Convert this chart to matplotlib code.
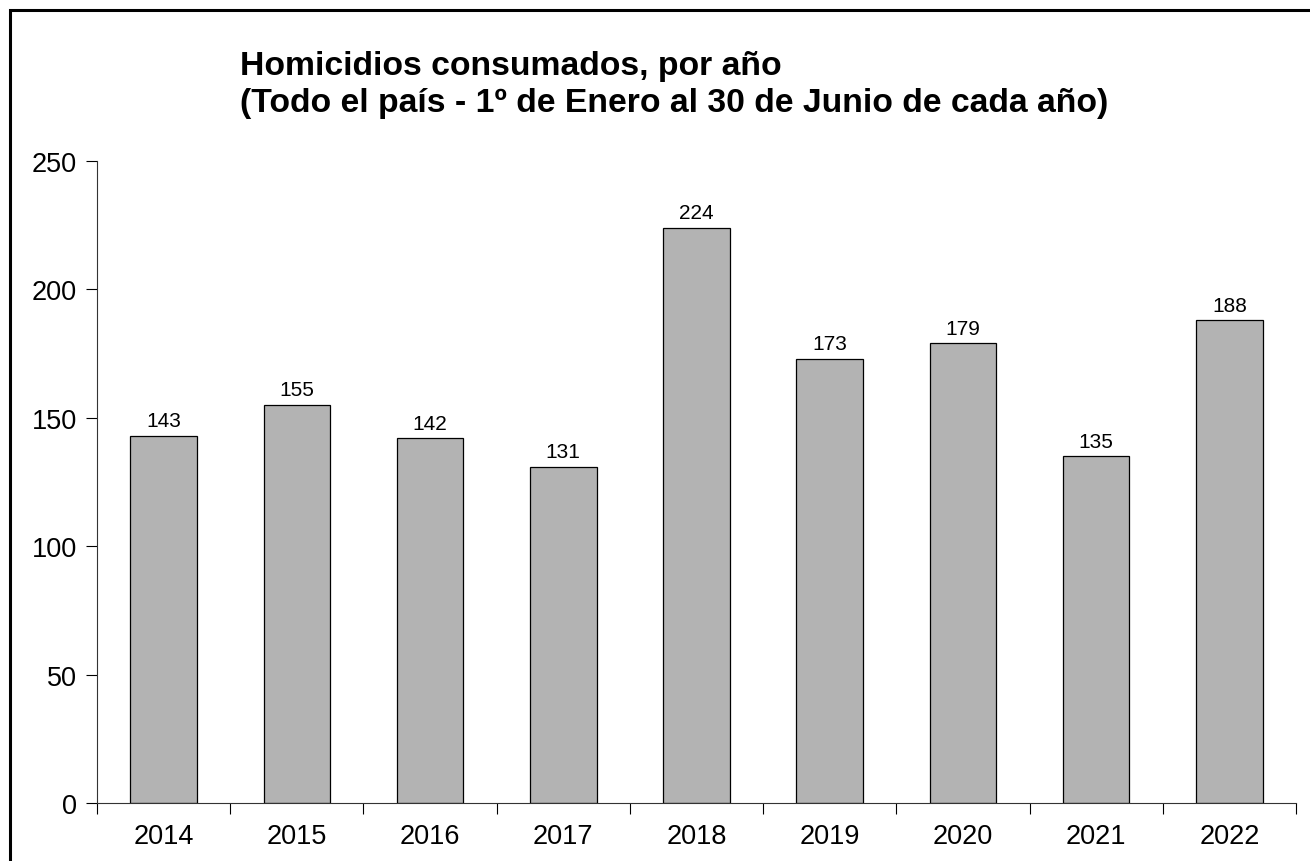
import matplotlib
matplotlib.use("Agg")
import matplotlib.pyplot as plt
from matplotlib.patches import Rectangle

years = ["2014", "2015", "2016", "2017", "2018", "2019", "2020", "2021", "2022"]
values = [143, 155, 142, 131, 224, 173, 179, 135, 188]
yticks = [0, 50, 100, 150, 200, 250]
title_line1 = "Homicidios consumados, por año"
title_line2 = "(Todo el país - 1º de Enero al 30 de Junio de cada año)"

plt.rcParams['font.family'] = ['Liberation Sans', 'DejaVu Sans']

W, H = 1310, 862
fig = plt.figure(figsize=(W / 100, H / 100), dpi=100)
fig.patch.set_facecolor("white")

# outer frame (cut by right/bottom edge)
fig.patches.append(Rectangle((10 / W, -0.1), 1.2, 1 - 11.3 / H + 0.1,
                             transform=fig.transFigure, fill=False,
                             edgecolor="black", linewidth=2.2))

ax = fig.add_axes([97 / W, (H - 804) / H, 1199 / W, 642 / H])
x = list(range(len(years)))
bars = ax.bar(x, values, width=0.5, color="#b3b3b3", edgecolor="black", linewidth=0.9)
ax.bar_label(bars, labels=[str(v) for v in values], padding=4, fontsize=15)

ax.set_xlim(-0.5, len(years) - 0.5)
ax.set_ylim(0, 250)
ax.set_yticks(yticks)
ax.set_yticklabels([str(t) for t in yticks], fontsize=19.5)
ax.tick_params(axis="y", length=8, width=0.8, pad=6.5)

ax.set_xticks([i - 0.5 for i in range(len(years) + 1)])
ax.set_xticklabels([])
ax.set_xticks(x, minor=True)
ax.set_xticklabels(years, minor=True, fontsize=19.5)
ax.tick_params(axis="x", which="major", length=8, width=0.8)
ax.tick_params(axis="x", which="minor", length=0, pad=14.5)

for s in ["top", "right"]:
    ax.spines[s].set_visible(False)
for s in ["left", "bottom"]:
    ax.spines[s].set_linewidth(0.8)
    ax.spines[s].set_color("#333333")

# title: size fitted so the second line spans the measured width
renderer = fig.canvas.get_renderer()
probe = fig.text(0, 0, title_line2, fontsize=23, fontweight="bold")
wpx = probe.get_window_extent(renderer).width
probe.remove()
fs = 23 * 868 / wpx

fig.text(240 / W, 1 - 75 / H, title_line1, fontsize=fs, fontweight="bold",
         ha="left", va="baseline")
fig.text(240 / W, 1 - 112 / H, title_line2, fontsize=fs, fontweight="bold",
         ha="left", va="baseline")

fig.savefig("out.png", dpi=100)
